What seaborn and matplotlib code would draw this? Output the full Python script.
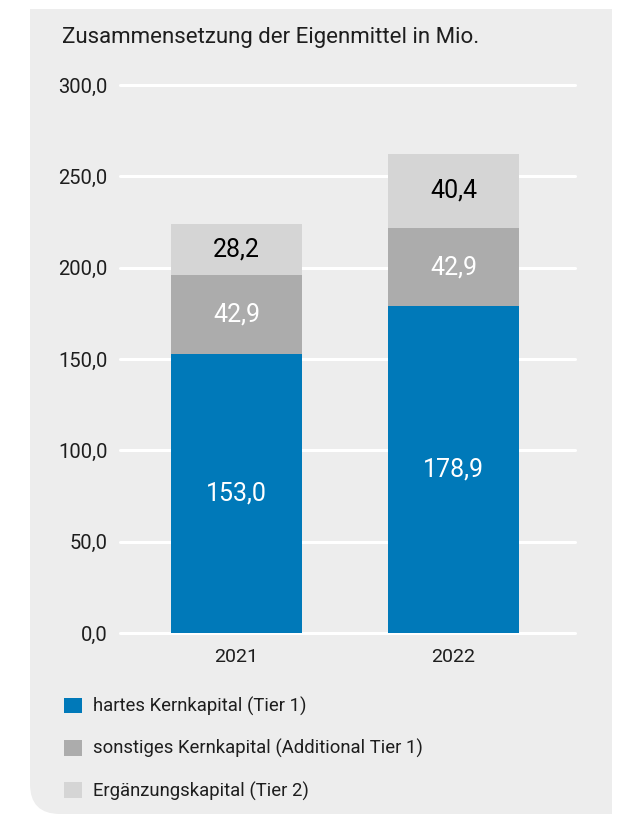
import matplotlib
matplotlib.use("Agg")
import matplotlib.pyplot as plt
import numpy as np
import pandas as pd
import seaborn as sns
from matplotlib.patches import FancyBboxPatch, Rectangle, Patch

years = ["2021", "2022"]
hartes_kern = [153.0, 178.9]
sonstiges_kern = [42.9, 42.9]
ergaenzung = [28.2, 40.4]
series_names = [
    "hartes Kernkapital (Tier 1)",
    "sonstiges Kernkapital (Additional Tier 1)",
    "Ergänzungskapital (Tier 2)",
]
y_ticks = [0, 50, 100, 150, 200, 250, 300]

colors = ["#0079b9", "#acacac", "#d5d5d5"]
label_colors = ["white", "white", "black"]
bg = "#ededed"

sns.set_style("white")
plt.rcParams["font.family"] = ["Roboto", "DejaVu Sans"]

W, H = 617, 814
fig = plt.figure(figsize=(W / 100, H / 100), dpi=100)
fig.patch.set_facecolor("white")

# grey panel, only bottom-left corner rounded
x0, x1, ytop, r = 30, 612, 9, 30
panel_kw = dict(transform=None, facecolor=bg, edgecolor="none", zorder=-10)
fig.patches.append(FancyBboxPatch((x0, 0), x1 - x0, H - ytop,
                                  boxstyle=f"round,pad=0,rounding_size={r}", **panel_kw))
fig.patches.append(Rectangle((x0 + r, 0), x1 - x0 - r, H - ytop, **panel_kw))
fig.patches.append(Rectangle((x0, r), x1 - x0, H - ytop - r, **panel_kw))

ax = fig.add_axes([120 / W, 1 - 633 / H, 455 / W, 548 / H])
ax.set_facecolor("none")

segments = [hartes_kern, sonstiges_kern, ergaenzung]
df = pd.DataFrame({"Jahr": years})
cum = np.cumsum(np.array(segments), axis=0)

# overlay cumulative totals, tallest first
for i in reversed(range(3)):
    df["wert"] = cum[i]
    sns.barplot(data=df, x="Jahr", y="wert", color=colors[i], saturation=1,
                width=0.6, ax=ax, zorder=3, edgecolor="none")

for i, seg in enumerate(segments):
    below = cum[i] - np.array(seg)
    for j, v in enumerate(seg):
        ax.text(j, below[j] + v / 2, f"{v:.1f}".replace(".", ","),
                ha="center", va="center", fontsize=18, color=label_colors[i], zorder=5)

ax.set_ylim(0, 300)
ax.set_xlim(-0.537, 1.56)
ax.set_yticks(y_ticks)
ax.set_yticklabels([f"{t:.1f}".replace(".", ",") for t in y_ticks])
ax.grid(axis="y", color="white", linewidth=2.2, zorder=0)
ax.set_axisbelow(True)
for gl in ax.get_ygridlines():
    gl.set_clip_on(False)
ax.tick_params(axis="y", length=0, pad=9, labelsize=14.5, labelcolor="#1e1e1e")
ax.tick_params(axis="x", length=0, pad=11, labelsize=14, labelcolor="#1e1e1e")
ax.set_xlabel("")
ax.set_ylabel("")
sns.despine(ax=ax, left=True, bottom=True)

fig.text(62 / W, 1 - 37 / H, "Zusammensetzung der Eigenmittel in Mio.",
         fontsize=16, color="#1e1e1e", va="center", ha="left")

handles = [Patch(facecolor=c, edgecolor="none") for c in colors]
fig.legend(handles, series_names, loc="upper left",
           bbox_to_anchor=(64 / W, 1 - 697 / H), frameon=False,
           fontsize=13.3, labelcolor="#1e1e1e", handlelength=0.97, handleheight=0.92,
           handletextpad=0.62, labelspacing=1.25, borderaxespad=0, borderpad=0)

fig.savefig("out.png", dpi=100, facecolor="white")
